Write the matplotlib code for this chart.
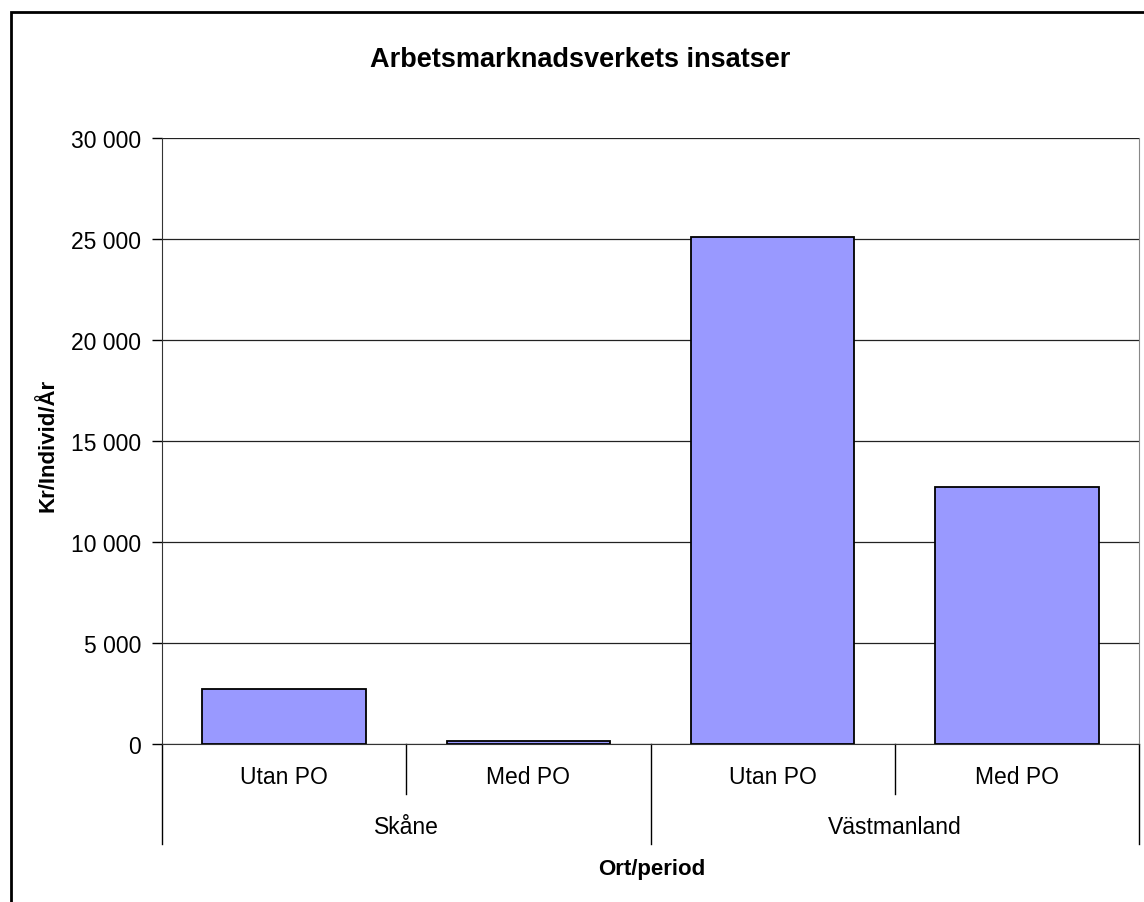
import matplotlib
matplotlib.use("Agg")
import matplotlib.pyplot as plt
import matplotlib.ticker as mticker
from matplotlib.patches import Rectangle
import numpy as np

plt.rcParams['font.family'] = ['Liberation Sans', 'DejaVu Sans']

# data
groups = ['Skåne', 'Västmanland']
periods = ['Utan PO', 'Med PO', 'Utan PO', 'Med PO']
values = [2720, 160, 25100, 12700]
yticks = [0, 5000, 10000, 15000, 20000, 25000, 30000]

fig = plt.figure(figsize=(11.44, 9.03), dpi=100)
ax = fig.add_axes([162/1144, 1 - 745/903, (1139-162)/1144, (745-139)/903])

x = np.arange(len(values))
ax.bar(x, values, width=0.67, color='#9999ff', edgecolor='black', linewidth=1.3, zorder=3)

ax.set_xlim(-0.5, len(values) - 0.5)
ax.set_ylim(0, 30000)
ax.set_yticks(yticks)
ax.yaxis.set_major_formatter(mticker.FuncFormatter(lambda v, p: f"{int(v):,}".replace(",", " ")))
ax.tick_params(axis='y', labelsize=16.5, length=7, width=1, pad=8, direction='out')
ax.grid(axis='y', color='#222222', linewidth=0.9, zorder=0)
ax.set_xticks([])

ax.spines['top'].set_visible(False)
ax.spines['right'].set_color('#888888')
ax.spines['left'].set_color('#333333')
ax.spines['bottom'].set_color('#333333')

# multi-level category axis
trans = ax.get_xaxis_transform()
h = 1 / 606.0  # one pixel in axes fraction (vertical)
for i, lab in enumerate(periods):
    ax.text(i, -33*h, lab, transform=trans, ha='center', va='center', fontsize=16.5)
for b in [0.5, 2.5]:
    ax.plot([b, b], [0, -50*h], transform=trans, color='black', lw=1, clip_on=False)
for b in [-0.5, 1.5, 3.5]:
    ax.plot([b, b], [0, -100*h], transform=trans, color='black', lw=1, clip_on=False)
for gi, g in enumerate(groups):
    ax.text(gi*2 + 0.5, -83*h, g, transform=trans, ha='center', va='center', fontsize=16.5)

fig.text(652/1144, 1 - 870/903, 'Ort/period', ha='center', va='center', fontsize=16, fontweight='bold')
fig.text(48/1144, 1 - 445/903, 'Kr/Individ/År', ha='center', va='center', rotation=90,
         fontsize=16, fontweight='bold')
fig.text(580/1144, 1 - 60/903, 'Arbetsmarknadsverkets insatser', ha='center', va='center',
         fontsize=19.5, fontweight='bold')

# outer chart frame
fig.patches.append(Rectangle((11/1144, -0.1), 1.2, 1 - 13/903 + 0.1, transform=fig.transFigure,
                             fill=False, edgecolor='black', linewidth=2))

fig.savefig('out.png', dpi=100)
